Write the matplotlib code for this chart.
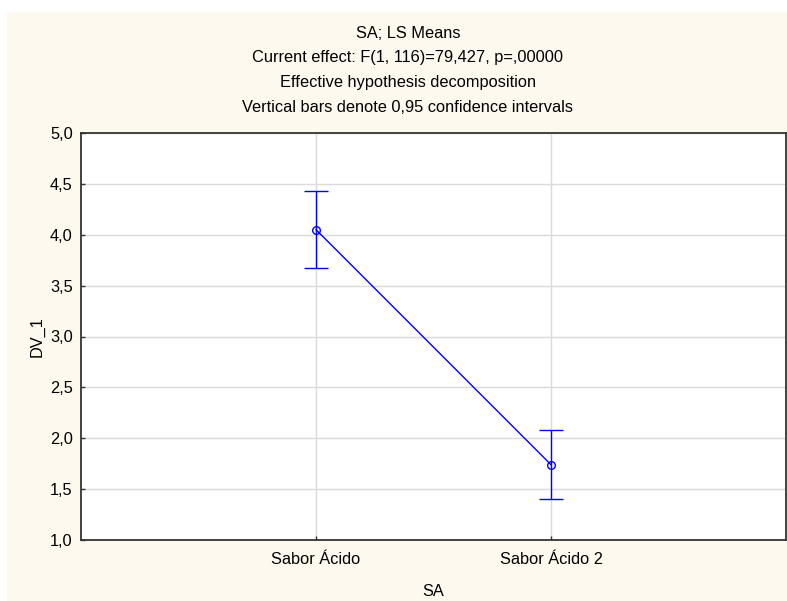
import matplotlib.pyplot as plt
from matplotlib.patches import Rectangle
from matplotlib.ticker import FuncFormatter
import numpy as np


plt.rcParams['font.family'] = ['Liberation Sans', 'DejaVu Sans']

# LS means and 0.95 confidence limits per level of SA
levels = ["Sabor Ácido", "Sabor Ácido 2"]
means = [4.05, 1.74]
ci_low = [3.67, 1.40]
ci_high = [4.43, 2.08]

title_lines = ["SA; LS Means",
               "Current effect: F(1, 116)=79,427, p=,00000",
               "Effective hypothesis decomposition",
               "Vertical bars denote 0,95 confidence intervals"]

cream = "#FEF9EE"
blue = "#0000FF"
fs = 11.8


fig = plt.figure(figsize=(7.87, 6.01), dpi=100, facecolor="white")
fig.patches.append(Rectangle((7/787, 0), 1, 1 - 12/601, transform=fig.transFigure,
                             facecolor=cream, edgecolor="none", zorder=-10))

ax = fig.add_axes([81/787, 1 - 540/601, 705/787, 407/601])
ax.set_facecolor("white")

x = np.arange(len(levels))
m = np.array(means)
err = np.vstack([m - np.array(ci_low), np.array(ci_high) - m])

ax.errorbar(x, m, yerr=err, color=blue, lw=1, elinewidth=1, capsize=8.5,
            capthick=1, marker="o", ms=5.5, mfc="none", mec=blue, mew=1, zorder=3)

ax.set_xlim(-1, len(levels))
ax.set_ylim(1, 5)
ax.set_xticks(x)
ax.set_xticklabels(levels)
ax.set_yticks(np.arange(1, 5.01, 0.5))
ax.yaxis.set_major_formatter(FuncFormatter(lambda v, p: f"{v:.1f}".replace(".", ",")))

ax.grid(True, color="#DADADA", lw=1)
ax.set_axisbelow(True)

for s in ax.spines.values():
    s.set_color("#333333")
    s.set_linewidth(1.3)

ax.tick_params(axis="both", direction="in", length=3, width=1, color="#333333",
               labelsize=fs)
ax.tick_params(axis="x", pad=9)
ax.tick_params(axis="y", pad=6)

ax.set_ylabel("DV_1", fontsize=fs, labelpad=4)
ax.set_xlabel("SA", fontsize=fs, labelpad=12)

for i, line in enumerate(title_lines):
    fig.text(408/787, 1 - (33 + 24.7*i)/601, line, ha="center", va="center",
             fontsize=fs)

fig.savefig("out.png", dpi=100, facecolor=fig.get_facecolor())
